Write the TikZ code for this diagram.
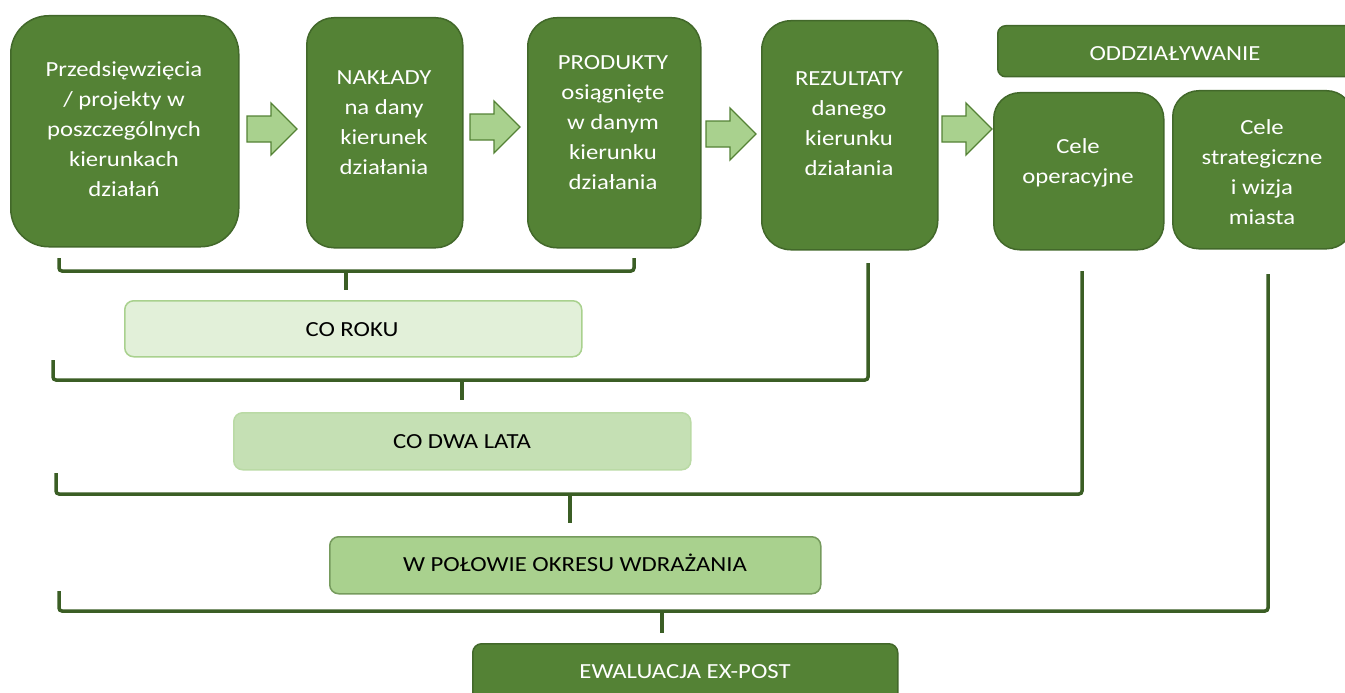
\documentclass[tikz,border=0pt]{standalone}
\usepackage{fontspec}
\setmainfont{Carlito}
\usepackage{graphicx}
\definecolor{boxfill}{HTML}{548235}
\definecolor{boxline}{HTML}{42682A}
\definecolor{brk}{HTML}{3B5E25}
\definecolor{arrfill}{HTML}{A9D18E}
\definecolor{lt1}{HTML}{E2F0D9}
\definecolor{lt2}{HTML}{C5E0B4}
\definecolor{lt3}{HTML}{A9D18E}
\newcommand{\sx}[1]{\scalebox{1.15}[1]{\begin{tabular}{@{}c@{}}#1\end{tabular}}}
\newcommand{\blockarrow}[3]{%
  \draw[arrowshape] (#2,#3-13) -- ++(24,0) -- ++(0,-13) -- ++(26,26) -- ++(-26,26) -- ++(0,-13) -- ++(-24,0) -- cycle;}
\tikzset{
  darkbox/.style={draw=boxline, fill=boxfill, line width=1.5pt, inner sep=0pt, anchor=north west},
  wtxt/.style={text=white, font=\fontsize{21.5}{30}\selectfont, inner sep=0pt},
  btxt/.style={text=black, font=\fontsize{21.5}{30}\selectfont, inner sep=0pt},
  barbox/.style={line width=1.5pt, inner sep=0pt, anchor=north west, rounded corners=9pt},
  brace/.style={draw=brk, line width=3.5pt, rounded corners=3pt},
  arrowshape/.style={draw=boxfill, fill=arrfill, line width=1.3pt, line join=miter},
}
\begin{document}
\begin{tikzpicture}[x=1pt,y=-1pt]
\useasboundingbox (0,0) rectangle (1345,693);
% top boxes
\node[darkbox, rounded corners=38pt, minimum width=228pt, minimum height=231pt] (b1) at (10,15) {};
\node[wtxt] (t1) at (124,130) {\sx{Przedsięwzięcia\\/ projekty w\\poszczególnych\\kierunkach\\działań}};
\node[darkbox, rounded corners=27pt, minimum width=156pt, minimum height=230pt] (b2) at (306,17) {};
\node[wtxt] (t2) at (384,123) {\sx{NAKŁADY\\na dany\\kierunek\\działania}};
\node[darkbox, rounded corners=29pt, minimum width=173pt, minimum height=230pt] (b3) at (527,17) {};
\node[wtxt] (t3) at (613,123) {\sx{PRODUKTY\\osiągnięte\\w danym\\kierunku\\działania}};
\node[darkbox, rounded corners=29pt, minimum width=176pt, minimum height=229pt] (b4) at (761,20) {};
\node[wtxt] (t4) at (849,125) {\sx{REZULTATY\\danego\\kierunku\\działania}};
\node[darkbox, rounded corners=8pt, minimum width=360pt, minimum height=51pt] (b5) at (997,25) {};
\node[wtxt] (t5) at (1175,55) {\sx{ODDZIAŁYWANIE}};
\node[darkbox, rounded corners=26pt, minimum width=170pt, minimum height=157pt] (b6) at (993,92) {};
\node[wtxt] (t6) at (1078,162) {\sx{Cele\\operacyjne}};
\node[darkbox, rounded corners=26pt, minimum width=180pt, minimum height=158pt] (b7) at (1172,90) {};
\node[wtxt] (t7) at (1262,173) {\sx{Cele\\strategiczne\\i wizja\\miasta}};
% block arrows
\blockarrow{a1}{247}{129}
\blockarrow{a2}{470}{127}
\blockarrow{a3}{706}{134}
\blockarrow{a4}{942}{129}
% bars
\node[barbox, draw=lt3, fill=lt1, minimum width=457pt, minimum height=56pt] (r1) at (124,300) {};
\node[btxt] (s1) at (352,330) {\sx{CO ROKU}};
\node[barbox, draw=lt3!80, fill=lt2, minimum width=457pt, minimum height=57pt] (r2) at (233,412) {};
\node[btxt] (s2) at (462,442) {\sx{CO DWA LATA}};
\node[barbox, draw=boxfill!80, fill=lt3, minimum width=491pt, minimum height=57pt] (r3) at (329,536) {};
\node[btxt] (s3) at (575,565) {\sx{W POŁOWIE OKRESU WDRAŻANIA}};
\node[barbox, draw=boxline, fill=boxfill, minimum width=425pt, minimum height=62pt] (r4) at (472,643) {};
\node[wtxt] (s4) at (685,672) {\sx{EWALUACJA EX-POST}};
% brackets
\coordinate (k1a) at (59,258); \coordinate (k1b) at (634,258);
\coordinate (k2a) at (53,360); \coordinate (k2b) at (868,263);
\coordinate (k3a) at (56,473); \coordinate (k3b) at (1082,271);
\coordinate (k4a) at (59,591); \coordinate (k4b) at (1268,274);
\draw[brace] (k1a) -- (59,271) -- (634,271) -- (k1b);
\draw[brace] (346,271) -- (346,290);
\draw[brace] (k2a) -- (53,380) -- (868,380) -- (k2b);
\draw[brace] (462,380) -- (462,400);
\draw[brace] (k3a) -- (56,494) -- (1082,494) -- (k3b);
\draw[brace] (570,494) -- (570,523);
\draw[brace] (k4a) -- (59,611) -- (1268,611) -- (k4b);
\draw[brace] (662,611) -- (662,633);
\end{tikzpicture}
\end{document}
